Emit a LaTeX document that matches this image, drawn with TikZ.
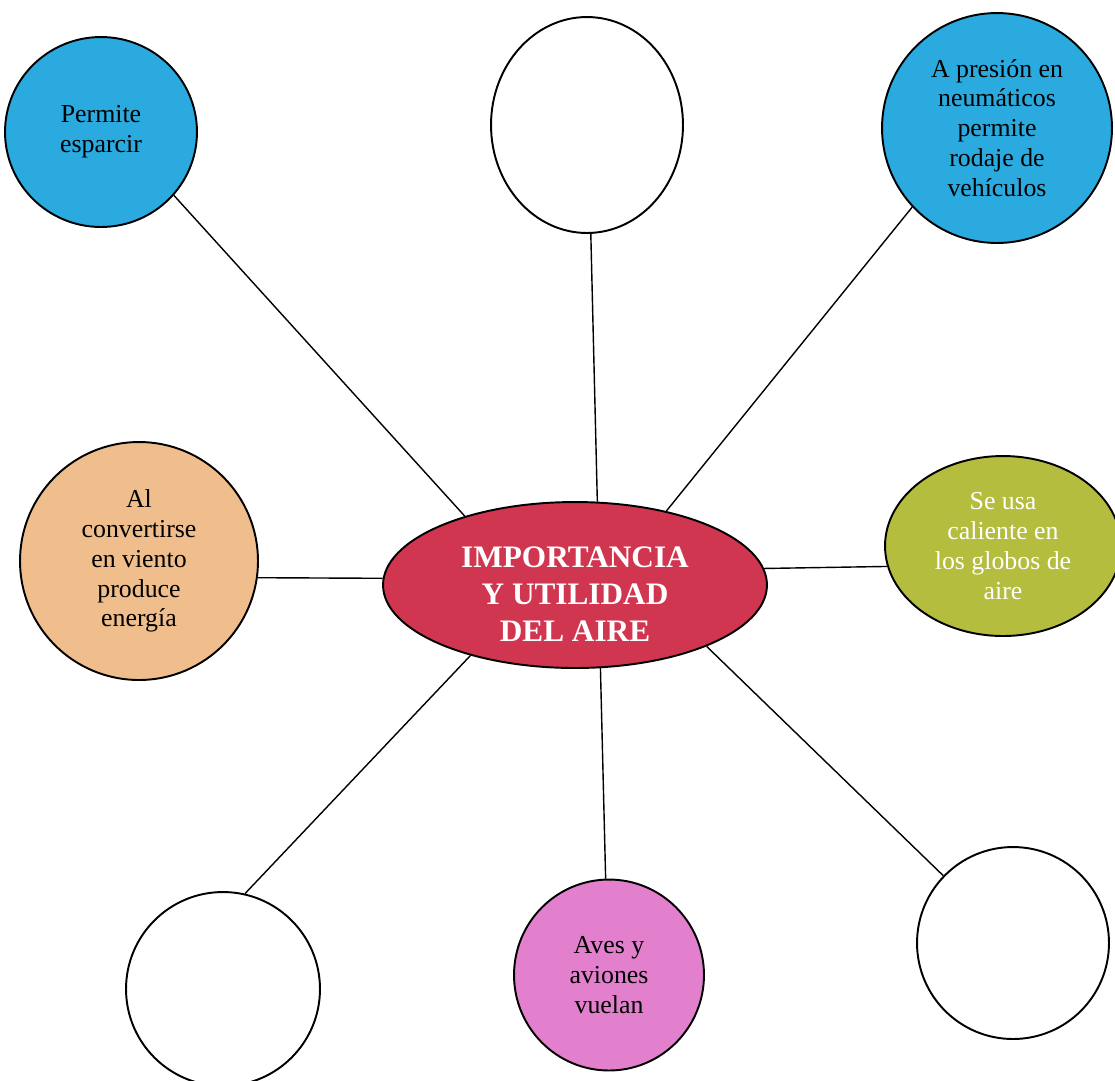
\documentclass[tikz,border=0pt]{standalone}
\usepackage{fontspec}
\setmainfont{Liberation Serif}
\usepackage{xcolor}
\usepackage{tikz}
\usetikzlibrary{shapes.geometric}

\definecolor{celeste}{RGB}{42,170,222}
\definecolor{durazno}{RGB}{240,190,140}
\definecolor{oliva}{RGB}{181,189,63}
\definecolor{rosa}{RGB}{226,128,206}
\definecolor{carmin}{RGB}{208,54,80}

\begin{document}
\begin{tikzpicture}[
  x=0.02cm, y=-0.02cm,
  bubble/.style={
    draw,
    ellipse,
    line width=1.1pt,
    inner sep=0pt,
    align=center,
    font=\fontsize{14.7}{17}\selectfont
  },
  hub/.style={
    bubble,
    fill=carmin,
    minimum width=7.68cm,
    minimum height=3.32cm
  },
  hubtext/.style={
    text=white,
    align=center,
    font=\fontsize{17.8}{21}\selectfont\bfseries
  },
  link/.style={line width=0.8pt}
]
  \useasboundingbox (0,0) rectangle (1115,1080);

  \node[hub] (aire) at (575,585) {};
  \node[hubtext] (airetexto) at (575,594) {IMPORTANCIA\\Y UTILIDAD\\DEL AIRE};

  \node[bubble, fill=celeste, minimum width=3.84cm, minimum height=3.8cm] (esparcir) at (101,132) {Permite\\esparcir};
  \node[bubble, minimum width=3.84cm, minimum height=4.32cm] (vacioarriba) at (587,125) {};
  \node[bubble, fill=celeste, minimum width=4.6cm, minimum height=4.6cm] (neumaticos) at (997,128) {A presión en\\neumáticos\\permite\\rodaje de\\vehículos};
  \node[bubble, fill=durazno, minimum width=4.76cm, minimum height=4.76cm] (energia) at (139,561) {Al\\convertirse\\en viento\\produce\\energía};
  \node[bubble, fill=oliva, text=white, minimum width=4.72cm, minimum height=3.6cm] (globos) at (1003,546) {Se usa\\caliente en\\los globos de\\aire};
  \node[bubble, minimum width=3.88cm, minimum height=3.88cm] (vacioizq) at (223,989) {};
  \node[bubble, fill=rosa, minimum width=3.8cm, minimum height=3.82cm] (aves) at (609,975) {Aves y\\aviones\\vuelan};
  \node[bubble, minimum width=3.84cm, minimum height=3.84cm] (vacioder) at (1013,943) {};

  \draw[link] (esparcir.-41) -- (aire.148);
  \draw[link] (vacioarriba.-88) -- (aire.75);
  \draw[link] (neumaticos.223) -- (aire.39);
  \draw[link] (energia.-8) -- (aire.178);
  \draw[link] (globos.190) -- (aire.5);
  \draw[link] (vacioizq.77) -- (aire.214);
  \draw[link] (aves.92) -- (aire.287);
  \draw[link] (vacioder.136) -- (aire.335);
\end{tikzpicture}
\end{document}
